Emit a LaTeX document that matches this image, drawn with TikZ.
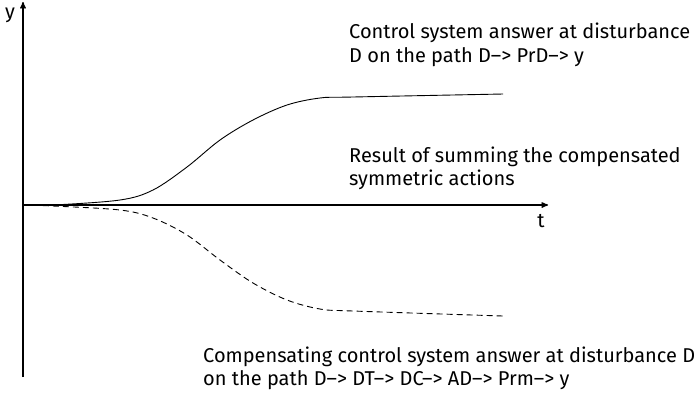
\documentclass[tikz,border=0pt]{standalone}
\usepackage{fontspec}
\setmainfont{Fira Sans}
\usetikzlibrary{arrows}

\tikzset{
  note/.style={anchor=west, align=left, inner sep=0pt, font=\fontsize{20}{23.5}\selectfont},
  axislabel/.style={inner sep=0pt, font=\fontsize{20}{22}\selectfont}
}

\begin{document}
\begin{tikzpicture}[>=stealth', x=1pt, y=-1pt]
            \useasboundingbox (0,0) rectangle (700,392);
            \coordinate (o) at (23,205);
            \coordinate (ytop) at (23,2);
            \coordinate (ybot) at (23,377);
            \coordinate (tend) at (548,205);
            \draw[->, line width=1.3pt] (ybot) -- (ytop);
            \draw[->, line width=1.3pt] (o) -- (tend);
            \node[axislabel] (ylab) at (10,15) {y};
            \node[axislabel] (tlab) at (541,221) {t};
            % answer along D -> PrD -> y
            \draw[line width=0.9pt] plot[smooth, tension=0.55] coordinates
              {(o) (53,205) (120,200) (153,190) (187,167) (220,140) (253,120) (287,105) (320,98) (353,97) (503,94)};
            % compensating answer
            \draw[line width=0.9pt, dash pattern=on 6pt off 4pt] plot[smooth, tension=0.55] coordinates
              {(o) (53,206) (120,210) (153,218) (187,235) (220,260) (253,283) (287,300) (320,309) (353,311) (503,316)};
            \node[note] (answer) at (349,45) {Control system answer at disturbance\\D on the path D--> PrD--> y};
            \node[note] (result) at (349,168.5) {Result of summing the compensated\\symmetric actions};
            \node[note] (compans) at (203,368.5) {Compensating control system answer at disturbance D\\on the path D--> DT--> DC--> AD--> Prm--> y};
      \end{tikzpicture}
\end{document}
